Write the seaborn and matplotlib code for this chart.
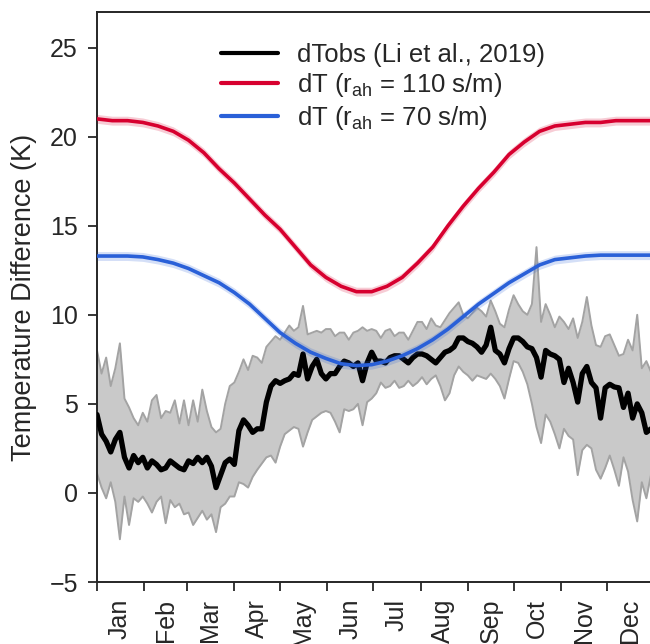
import numpy as np
import pandas as pd
import matplotlib
matplotlib.use("Agg")
import matplotlib.pyplot as plt
import seaborn as sns

# ---------------- data ----------------
obs_step_days = 3  # observations sampled every 3 days starting Jan 1 (day 0)

obs_mean = [
    4.4, 3.3, 2.9, 2.3, 3.0, 3.4, 2.0, 1.4, 2.1, 1.7,
    2.0, 1.4, 1.8, 1.6, 1.3, 1.4, 1.8, 1.6, 1.4, 1.3,
    1.8, 1.65, 2.0, 1.7, 2.0, 1.5, 0.3, 1.0, 1.7, 1.9,
    1.6, 3.5, 4.1, 3.8, 3.4, 3.6, 3.6, 5.1, 6.0, 6.3,
    6.15, 6.3, 6.4, 6.7, 6.6, 7.8, 6.4, 7.1, 7.5, 6.7,
    6.4, 6.7, 6.7, 7.1, 7.4, 7.3, 7.1, 7.3, 6.3, 7.3,
    7.9, 7.4, 7.4, 7.3, 7.6, 7.7, 7.7, 7.5, 7.3, 7.6,
    7.8, 7.8, 7.7, 7.5, 7.3, 7.6, 7.9, 8.0, 8.2, 8.7,
    8.7, 8.5, 8.4, 8.2, 7.9, 8.3, 9.3, 8.0, 7.8, 7.3,
    8.1, 8.7, 8.7, 8.5, 8.2, 8.1, 7.6, 6.5, 8.0, 7.8,
    7.7, 7.5, 6.2, 7.0, 6.2, 5.1, 6.7, 7.1, 6.2, 5.9,
    4.2, 5.9, 6.1, 5.95, 5.9, 4.8, 5.6, 4.2, 5.0, 4.5,
    3.4, 3.6,
]
obs_upper = [
    8.0, 6.7, 7.6, 6.0, 7.0, 8.4, 5.3, 4.8, 4.2, 3.8,
    4.5, 4.0, 5.2, 5.5, 4.2, 4.6, 4.5, 5.2, 3.9, 5.2,
    3.8, 5.2, 4.0, 5.8, 4.6, 3.7, 3.4, 3.6, 5.0, 6.0,
    6.2, 6.8, 7.5, 6.9, 7.7, 7.6, 7.3, 8.2, 8.5, 8.8,
    8.6, 9.0, 9.4, 9.1, 9.3, 10.5, 8.9, 9.0, 9.1, 9.0,
    9.2, 9.2, 8.8, 9.0, 9.0, 8.6, 9.0, 9.1, 9.3, 9.1,
    9.2, 9.1, 8.7, 9.1, 9.2, 8.8, 9.0, 9.0, 8.6, 9.1,
    9.6, 9.6, 9.2, 9.8, 9.4, 9.3, 9.7, 10.1, 10.4, 10.7,
    10.0, 9.8, 10.1, 10.4, 10.2, 9.9, 10.8, 10.2, 9.5, 9.3,
    10.3, 11.1, 10.6, 10.2, 10.0, 10.6, 13.8, 9.6, 10.6, 10.0,
    9.3, 9.9, 9.6, 9.2, 9.8, 8.7, 9.6, 11.0, 9.4, 8.3,
    8.2, 8.8, 8.9, 8.3, 7.7, 7.8, 8.6, 8.0, 10.0, 7.0,
    7.4, 6.8,
]
obs_lower = [
    1.1, 0.3, -0.3, 0.6, -0.5, -2.6, -0.2, -1.8, -0.3, -0.5,
    -0.2, -0.6, -1.1, -0.5, -0.2, -1.7, -0.4, -0.8, -0.6, -1.2,
    -1.1, -1.8, -1.4, -1.0, -1.5, -1.2, -2.2, -0.8, -0.6, -0.2,
    -0.2, 0.6, 0.5, 0.3, 0.9, 1.3, 1.65, 2.0, 2.1, 1.7,
    2.6, 3.3, 3.5, 3.7, 3.6, 2.6, 3.4, 4.1, 4.3, 4.5,
    4.6, 4.5, 4.0, 3.4, 4.7, 4.6, 4.7, 5.0, 3.8, 5.1,
    5.3, 5.6, 6.2, 5.9, 6.0, 6.3, 5.9, 6.0, 6.3, 6.0,
    6.2, 6.5, 6.1, 6.4, 6.6, 6.0, 5.2, 5.6, 6.6, 7.1,
    6.8, 6.6, 6.3, 6.6, 6.5, 6.4, 6.7, 6.4, 6.0, 5.3,
    6.4, 7.4, 7.3, 6.8, 6.1, 5.0, 3.7, 2.8, 4.4, 4.0,
    3.3, 2.5, 3.6, 3.2, 3.0, 1.0, 2.4, 2.7, 2.5, 1.3,
    0.8, 1.4, 2.1, 1.3, 0.4, 2.0, 1.2, -0.4, -1.6, 0.6,
    -0.3, 1.0,
]

model_days = [0, 10, 20, 30, 40, 50, 60, 70, 80, 90, 100, 110, 120, 130, 140,
              150, 160, 170, 180, 190, 200, 210, 220, 230, 240, 250, 260, 270,
              280, 290, 300, 310, 320, 330, 340, 350, 364]
dt_rah110 = [21.0, 20.9, 20.9, 20.8, 20.6, 20.3, 19.8, 19.1, 18.2, 17.4, 16.5,
             15.6, 14.8, 13.8, 12.8, 12.1, 11.6, 11.3, 11.3, 11.6, 12.1, 12.9,
             13.8, 15.0, 16.1, 17.1, 18.0, 19.0, 19.7, 20.3, 20.6, 20.7, 20.8,
             20.8, 20.9, 20.9, 20.9]
dt_rah70 = [13.3, 13.3, 13.3, 13.25, 13.1, 12.9, 12.6, 12.2, 11.8, 11.25, 10.6,
            9.8, 9.0, 8.4, 7.9, 7.55, 7.25, 7.15, 7.2, 7.4, 7.7, 8.1, 8.6, 9.2,
            9.9, 10.6, 11.2, 11.8, 12.3, 12.8, 13.1, 13.2, 13.3, 13.35, 13.35,
            13.35, 13.35]
model_spread = 0.25

month_starts = [0, 31, 59, 90, 120, 151, 181, 212, 243, 273, 304, 334]
month_mids = [15, 45, 74, 105, 135, 166, 196, 227, 258, 288, 319, 349]
month_labels = ["Jan", "Feb", "Mar", "Apr", "May", "Jun",
                "Jul", "Aug", "Sep", "Oct", "Nov", "Dec"]

labels = ["dTobs (Li et al., 2019)",
          r"dT (r$_{\mathrm{ah}}$ = 110 s/m)",
          r"dT (r$_{\mathrm{ah}}$ = 70 s/m)"]

# ---------------- style ----------------
sns.set_theme(style="ticks")
plt.rcParams["font.family"] = ["Liberation Sans", "DejaVu Sans"]
plt.rcParams["mathtext.fontset"] = "custom"
plt.rcParams["mathtext.rm"] = "Liberation Sans"
plt.rcParams["mathtext.it"] = "Liberation Sans:italic"

RED = "#d7002f"
BLUE = "#2a60d8"

obs_days = np.arange(len(obs_mean)) * obs_step_days
obs = pd.DataFrame({"day": obs_days, "mean": obs_mean,
                    "upper": obs_upper, "lower": obs_lower})
mod = pd.DataFrame({"day": model_days, "r110": dt_rah110, "r70": dt_rah70})

fig = plt.figure(figsize=(6.5, 6.44), dpi=100)
ax = fig.add_axes([97 / 650, 62 / 644, 557 / 650, 570 / 644])

ax.fill_between(obs["day"], obs["lower"], obs["upper"], color="#c9c9c9",
                lw=0, zorder=1)
sns.lineplot(data=obs, x="day", y="upper", color="#a3a3a3", lw=1.4, ax=ax,
             zorder=2)
sns.lineplot(data=obs, x="day", y="lower", color="#a3a3a3", lw=1.4, ax=ax,
             zorder=2)
sns.lineplot(data=obs, x="day", y="mean", color="black", lw=3.8, ax=ax,
             label=labels[0], zorder=3)

r110 = np.array(dt_rah110)
r70 = np.array(dt_rah70)
ax.fill_between(mod["day"], r110 - model_spread, r110 + model_spread,
                color=RED, alpha=0.2, lw=0, zorder=4)
sns.lineplot(data=mod, x="day", y="r110", color=RED, lw=2.6, ax=ax,
             label=labels[1], zorder=5)
ax.fill_between(mod["day"], r70 - model_spread, r70 + model_spread,
                color=BLUE, alpha=0.2, lw=0, zorder=4)
sns.lineplot(data=mod, x="day", y="r70", color=BLUE, lw=2.6, ax=ax,
             label=labels[2], zorder=5)

ax.set_xlim(0, 365)
ax.set_ylim(-5, 27)
ax.set_yticks([-5, 0, 5, 10, 15, 20, 25])
ax.set_xticks(month_starts)
ax.set_xticklabels([])
ax.set_xticks(month_mids, minor=True)
ax.set_xticklabels(month_labels, minor=True, rotation=90, fontsize=18)
ax.tick_params(axis="x", which="minor", length=0, pad=12)
ax.tick_params(axis="both", which="major", length=6.8, width=1.3,
               direction="out", labelsize=18, pad=7, color="#262626")
ax.set_xlabel("")
ax.set_ylabel("Temperature Difference (K)", fontsize=19.5, labelpad=9)
for s in ax.spines.values():
    s.set_linewidth(1.4)
    s.set_color("#262626")
ax.spines["right"].set_visible(False)

leg = ax.legend(loc="upper left", bbox_to_anchor=(0.2226, 0.946),
                frameon=False, fontsize=18.5, handlelength=2.2,
                handletextpad=0.75, labelspacing=0.17, borderpad=0,
                borderaxespad=0)
for h in leg.get_lines():
    h.set_linewidth(3.0)

fig.savefig("out.png", dpi=100)
